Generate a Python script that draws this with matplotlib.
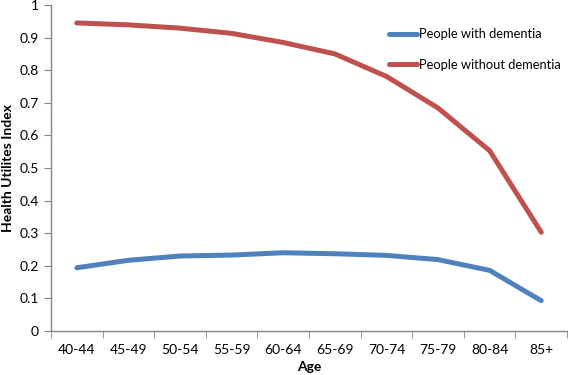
import matplotlib.pyplot as plt
import numpy as np
from matplotlib.ticker import FixedLocator

plt.rcParams['font.family'] = ['Lato', 'DejaVu Sans']

ages = ['40-44', '45-49', '50-54', '55-59', '60-64', '65-69', '70-74', '75-79', '80-84', '85+']
with_dementia = [0.194, 0.217, 0.230, 0.233, 0.240, 0.237, 0.232, 0.219, 0.186, 0.093]
without_dementia = [0.945, 0.939, 0.929, 0.913, 0.885, 0.850, 0.781, 0.684, 0.553, 0.303]

fig = plt.figure(figsize=(5.68, 3.75), dpi=100)
ax = fig.add_axes([0.0898, 0.1173, 0.9085, 0.8694])

x = np.arange(len(ages))
ax.plot(x, with_dementia, color='#4F81BD', lw=3.6, solid_capstyle='round', label='People with dementia')
ax.plot(x, without_dementia, color='#C0504D', lw=3.6, solid_capstyle='round', label='People without dementia')

ax.set_xlim(-0.5, len(ages) - 0.5)
ax.set_ylim(0, 1)
ax.set_yticks(np.arange(0, 1.01, 0.1))
ax.set_yticklabels(['0', '0.1', '0.2', '0.3', '0.4', '0.5', '0.6', '0.7', '0.8', '0.9', '1'])
ax.set_xticks(x)
ax.set_xticklabels(ages)
ax.xaxis.set_minor_locator(FixedLocator(np.arange(-0.5, len(ages), 1.0)))
ax.tick_params(axis='x', which='major', length=0, pad=9, labelsize=10)
ax.tick_params(axis='x', which='minor', length=5, color='#868686', direction='out')
ax.tick_params(axis='y', length=5, color='#868686', direction='out', labelsize=10, pad=4)

for s in ['top', 'right']:
    ax.spines[s].set_visible(False)
for s in ['left', 'bottom']:
    ax.spines[s].set_color('#868686')
    ax.spines[s].set_linewidth(1.0)

ax.set_xlabel('Age', fontsize=10, fontweight='bold', labelpad=4)
ax.set_ylabel('Health Utilites Index', fontsize=10, fontweight='bold')
ax.yaxis.set_label_coords(-0.072, 0.5)

leg = ax.legend(loc='upper left', bbox_to_anchor=(0.645, 0.945), frameon=False, fontsize=9.3,
                handlelength=2.2, handletextpad=0.1, labelspacing=1.45, borderaxespad=0)

fig.savefig('out.png', dpi=100)
